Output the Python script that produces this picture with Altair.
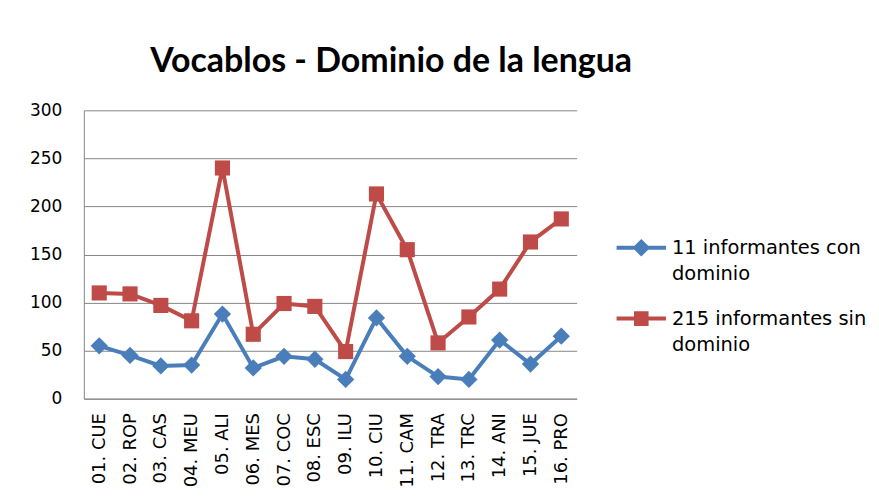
import altair as alt
import pandas as pd

categories = ["01. CUE", "02. ROP", "03. CAS", "04. MEU", "05. ALI", "06. MES",
              "07. COC", "08. ESC", "09. ILU", "10. CIU", "11. CAM", "12. TRA",
              "13. TRC", "14. ANI", "15. JUE", "16. PRO"]
con_dominio = [55, 45, 34, 35, 88, 32, 44, 41, 20, 84, 44, 23, 20, 61, 36, 65]
sin_dominio = [110, 109, 97, 81, 240, 67, 99, 96, 49, 213, 155, 58, 85, 114, 163, 187]
series_names = ["11 informantes con dominio", "215 informantes sin dominio"]
series_colors = ["#4A7EBB", "#BE4B48"]

rows = []
for c, v in zip(categories, con_dominio):
    rows.append({"cat": c, "val": v, "serie": series_names[0]})
for c, v in zip(categories, sin_dominio):
    rows.append({"cat": c, "val": v, "serie": series_names[1]})
df = pd.DataFrame(rows)

TITLE_FONT = "Lato"
FONT = "DejaVu Sans"

x = alt.X("cat:N", sort=categories, title=None,
          scale=alt.Scale(type="point", padding=0.5),
          axis=alt.Axis(labelAngle=-90, labelFontSize=18, labelFont=FONT,
                        labelColor="#000000", ticks=False, domainColor="#868686",
                        labelPadding=14, labelAlign="right", labelBaseline="middle"))
y = alt.Y("val:Q", title=None,
          scale=alt.Scale(domain=[0, 300], nice=False),
          axis=alt.Axis(values=[0, 50, 100, 150, 200, 250, 300], labelFontSize=17,
                        labelFont=FONT, labelColor="#000000", ticks=False,
                        domainColor="#868686", gridColor="#868686",
                        labelPadding=22))
color = alt.Color("serie:N", scale=alt.Scale(domain=series_names, range=series_colors),
                  legend=None)

base = alt.Chart(df)

lines = base.mark_line(strokeWidth=4).encode(x=x, y=y, color=color, detail="serie:N")
pts_con = base.transform_filter(alt.datum.serie == series_names[0]).mark_point(
    shape="diamond", filled=True, size=300, opacity=1).encode(x=x, y=y, color=color)
pts_sin = base.transform_filter(alt.datum.serie == series_names[1]).mark_point(
    shape="square", filled=True, size=230, opacity=1).encode(x=x, y=y, color=color)

diamond_path = "M-3.5,0 L3.5,0 M0,-0.85 L0.85,0 L0,0.85 L-0.85,0 Z"
square_path = "M-3.5,0 L3.5,0 M-0.75,-0.75 L0.75,-0.75 L0.75,0.75 L-0.75,0.75 Z"

legend = alt.Legend(title=None, orient="none", legendX=549, legendY=128,
                    labelFont=FONT, labelFontSize=19.5, labelColor="#000000",
                    symbolSize=200, symbolStrokeWidth=4, labelOffset=21,
                    rowPadding=21, padding=0, labelLimit=400,
                    labelExpr="[replace(datum.label, ' dominio', ''), 'dominio']")

legend_layer = base.mark_point(filled=True, opacity=1, size=0).encode(
    x=x, y=y,
    fill=alt.Fill("serie:N", scale=alt.Scale(domain=series_names, range=series_colors), legend=legend),
    stroke=alt.Stroke("serie:N", scale=alt.Scale(domain=series_names, range=series_colors), legend=legend),
    shape=alt.Shape("serie:N", scale=alt.Scale(domain=series_names, range=[diamond_path, square_path]), legend=legend),
)

chart = alt.layer(legend_layer, lines, pts_con, pts_sin).properties(
    width=494, height=289,
    title=alt.Title("Vocablos - Dominio de la lengua", font=TITLE_FONT, fontSize=34,
                    fontWeight="bold", color="#000000", anchor="middle", dx=61,
                    offset=22),
    autosize=alt.AutoSizeParams(type="none"),
    padding={"left": 76, "top": 102, "right": 295, "bottom": 96},
).configure(
    background="#ffffff",
    view={"stroke": "transparent", "strokeWidth": 0},
    style={"guide-label": {"lineHeight": 26}},
)

chart.save("out.html", embed_options={"renderer": "svg", "actions": False})
